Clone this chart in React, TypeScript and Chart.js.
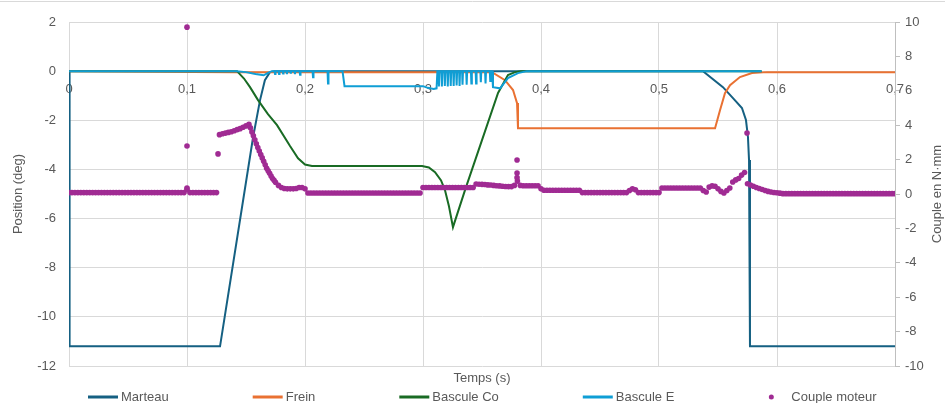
import React, { useEffect, useRef } from 'react';
import { Chart, registerables } from 'chart.js';

Chart.register(...registerables);

// ---------- data ----------
const seriesNames = ['Marteau', 'Frein', 'Bascule Co', 'Bascule E', 'Couple moteur'];
const xTickLabels = ['0', '0,1', '0,2', '0,3', '0,4', '0,5', '0,6', '0,7'];
const xTitle = 'Temps (s)';
const yLeftTitle = 'Position (deg)';
const yRightTitle = 'Couple en N·mm';

const marteau: [number, number][] = [
  [0, 0], [0.0005, -11.2], [0.128, -11.2], [0.156, -2.69], [0.1619, -1.18], [0.166, -0.37],
  [0.1703, -0.04], [0.174, 0], [0.5373, 0], [0.5542, -0.65], [0.5627, -1.1], [0.5703, -1.5],
  [0.5737, -1.99], [0.5754, -2.69], [0.5763, -3.62], [0.5771, -11.2], [0.7, -11.2],
];

const frein: [number, number][] = [
  [0, 0], [0.14, -0.04], [0.3585, -0.04], [0.3695, -0.37], [0.3763, -0.77], [0.3797, -1.3],
  [0.3805, -2.32], [0.5475, -2.32], [0.5517, -1.59], [0.5559, -0.9], [0.5602, -0.57],
  [0.5686, -0.24], [0.5788, -0.08], [0.5915, -0.04], [0.7, -0.04],
];

const basculeCo: [number, number][] = [
  [0, 0], [0.1424, 0], [0.1483, -0.3], [0.1534, -0.65], [0.1602, -1.18], [0.1686, -1.75],
  [0.1763, -2.2], [0.1873, -3.05], [0.1941, -3.55], [0.2, -3.8], [0.2059, -3.86],
  [0.2992, -3.86], [0.305, -3.92], [0.3102, -4.11], [0.3153, -4.45], [0.3186, -4.84],
  [0.322, -5.5], [0.3254, -6.35], [0.3356, -4.84], [0.35, -2.81], [0.3636, -0.89],
  [0.372, -0.16], [0.378, -0.04], [0.383, 0], [0.587, 0],
];

const basculeE: [number, number][] = [
  [0, 0], [0.142, 0], [0.15, -0.04], [0.158, -0.12], [0.165, -0.17], [0.169, -0.06], [0.172, 0],
  [0.1742, 0], [0.1746, -0.12], [0.175, 0],
  [0.1776, 0], [0.178, -0.12], [0.1784, 0],
  [0.181, 0], [0.1814, -0.1], [0.1818, 0],
  [0.1843, 0], [0.1847, -0.12], [0.1851, 0],
  [0.1876, 0], [0.188, -0.1], [0.1884, 0],
  [0.1911, 0], [0.1915, -0.12], [0.1919, 0],
  [0.1954, 0], [0.1958, -0.15], [0.1962, 0],
  [0.2064, 0], [0.2068, -0.25], [0.2072, 0],
  [0.2191, 0], [0.2195, -0.5], [0.2199, 0],
  [0.2318, 0], [0.2335, -0.61], [0.3, -0.61], [0.304, -0.68], [0.309, -0.73], [0.3115, -0.7],
  [0.3122, 0],
  [0.3131, 0], [0.3135, -0.62], [0.3139, 0],
  [0.3156, 0], [0.316, -0.62], [0.3164, 0],
  [0.3181, 0], [0.3185, -0.6], [0.3189, 0],
  [0.3206, 0], [0.321, -0.62], [0.3214, 0],
  [0.3231, 0], [0.3235, -0.6], [0.3239, 0],
  [0.3256, 0], [0.326, -0.6], [0.3264, 0],
  [0.3281, 0], [0.3285, -0.58], [0.3289, 0],
  [0.3306, 0], [0.331, -0.6], [0.3314, 0],
  [0.3331, 0], [0.3335, -0.55], [0.3339, 0],
  [0.3366, 0], [0.337, -0.55], [0.3374, 0],
  [0.3406, 0], [0.341, -0.5], [0.3414, 0],
  [0.3446, 0], [0.345, -0.5], [0.3454, 0],
  [0.3486, 0], [0.349, -0.45], [0.3494, 0],
  [0.3526, 0], [0.353, -0.5], [0.3534, 0],
  [0.3566, 0], [0.357, -0.4], [0.3574, 0],
  [0.3585, 0], [0.3593, -0.65], [0.3653, -0.7], [0.372, -0.28], [0.3805, -0.08], [0.388, 0],
  [0.587, 0],
];

// Couple moteur: regular sampling (start time, step) and values
const COUPLE_T0 = 0;
const COUPLE_DT = 0.0025;
const coupleY: number[] = [
  // t = 0 .. 0.125
  0.08, 0.08, 0.08, 0.08, 0.08, 0.08, 0.08, 0.08, 0.08, 0.08,
  0.08, 0.08, 0.08, 0.08, 0.08, 0.08, 0.08, 0.08, 0.08, 0.08,
  0.08, 0.08, 0.08, 0.08, 0.08, 0.08, 0.08, 0.08, 0.08, 0.08,
  0.08, 0.08, 0.08, 0.08, 0.08, 0.08, 0.08, 0.08, 0.08, 0.08,
  0.27, 0.08, 0.08, 0.08, 0.08, 0.08, 0.08, 0.08, 0.08, 0.08,
  0.08,
  // t = 0.1275 .. 0.2
  3.45, 3.5, 3.54, 3.58, 3.62, 3.68, 3.74, 3.8, 3.88, 3.96,
  4.05, 3.6, 3.15, 2.7, 2.3, 1.9, 1.5, 1.2, 0.9, 0.68,
  0.5, 0.38, 0.32, 0.3, 0.3, 0.3, 0.32, 0.38, 0.38, 0.3,
  // t = 0.2025 .. 0.2975
  0.06, 0.06, 0.06, 0.06, 0.06, 0.06, 0.06, 0.06, 0.06, 0.06,
  0.06, 0.06, 0.06, 0.06, 0.06, 0.06, 0.06, 0.06, 0.06, 0.06,
  0.06, 0.06, 0.06, 0.06, 0.06, 0.06, 0.06, 0.06, 0.06, 0.06,
  0.06, 0.06, 0.06, 0.06, 0.06, 0.06, 0.06, 0.06, 0.06,
  // t = 0.3 .. 0.3425
  0.38, 0.38, 0.38, 0.38, 0.38, 0.38, 0.38, 0.38, 0.38, 0.38,
  0.38, 0.38, 0.38, 0.38, 0.38, 0.38, 0.38, 0.38,
  // t = 0.345 .. 0.3975
  0.58, 0.57, 0.56, 0.55, 0.53, 0.52, 0.5, 0.48, 0.47, 0.45,
  0.44, 0.43, 0.43, 0.5, 0.75, 0.5, 0.48, 0.48, 0.48, 0.48,
  0.48, 0.48,
  // t = 0.4 .. 0.4325
  0.3, 0.22, 0.22, 0.22, 0.22, 0.22, 0.22, 0.22, 0.22, 0.22,
  0.22, 0.22, 0.22, 0.22,
  // t = 0.435 .. 0.5
  0.08, 0.08, 0.08, 0.08, 0.08, 0.08, 0.08, 0.08, 0.08, 0.08,
  0.08, 0.08, 0.08, 0.08, 0.08, 0.08, 0.2, 0.3, 0.25, 0.08,
  0.08, 0.08, 0.08, 0.08, 0.08, 0.08, 0.08,
  // t = 0.5025 .. 0.535
  0.35, 0.35, 0.35, 0.35, 0.35, 0.35, 0.35, 0.35, 0.35, 0.35,
  0.35, 0.35, 0.35, 0.35,
  // t = 0.5375 .. 0.6025
  0.2, 0.12, 0.4, 0.47, 0.45, 0.3, 0.15, 0.06, 0.2, 0.35,
  0.7, 0.82, 0.9, 1.1, 1.25, 0.6, 0.52, 0.45, 0.38, 0.32,
  0.26, 0.2, 0.15, 0.12, 0.09, 0.07, 0.05,
  // t = 0.605 .. 0.7
  0.02, 0.02, 0.02, 0.02, 0.02, 0.02, 0.02, 0.02, 0.02, 0.02,
  0.02, 0.02, 0.02, 0.02, 0.02, 0.02, 0.02, 0.02, 0.02, 0.02,
  0.02, 0.02, 0.02, 0.02, 0.02, 0.02, 0.02, 0.02, 0.02, 0.02,
  0.02, 0.02, 0.02, 0.02, 0.02, 0.02, 0.02, 0.02, 0.02,
];
const coupleExtra: [number, number][] = [
  [0.1, 9.7], [0.1, 2.79], [0.1, 0.35], [0.1263, 2.33],
  [0.15375, 3.85], [0.15625, 3.38], [0.15875, 2.92], [0.16125, 2.5], [0.16375, 2.1],
  [0.16625, 1.7], [0.16875, 1.35], [0.17125, 1.05], [0.17375, 0.8],
  [0.3797, 1.98], [0.3797, 1.22], [0.3797, 0.95],
  [0.5746, 3.55],
];

// ---------- styles ----------
const COLORS = ['#156082', '#E97132', '#196B24', '#0F9ED5', '#A02B93'];
const TEXT = '#595959';
const GRID = '#d9d9d9';
const FONT = '"Liberation Sans", Arial, sans-serif';

const toXY = (pairs: [number, number][]) => pairs.map(([x, y]) => ({ x, y }));

const bottomLegend = {
  id: 'bottomLegend',
  afterDraw(chart: any) {
    const ctx = chart.ctx as CanvasRenderingContext2D;
    const area = chart.chartArea;
    ctx.save();
    // outer chart border (top edge)
    ctx.strokeStyle = GRID;
    ctx.lineWidth = 1;
    ctx.beginPath();
    ctx.moveTo(0, 1.5);
    ctx.lineTo(chart.width, 1.5);
    ctx.stroke();

    ctx.font = `13px ${FONT}`;
    ctx.fillStyle = TEXT;

    // secondary axis title, rotated like the primary one
    ctx.save();
    ctx.translate(chart.width - 8, (area.top + area.bottom) / 2);
    ctx.rotate(-Math.PI / 2);
    ctx.textAlign = 'center';
    ctx.textBaseline = 'middle';
    ctx.fillText(yRightTitle, 0, 0);
    ctx.restore();

    // legend
    ctx.textBaseline = 'middle';
    ctx.textAlign = 'left';
    const y = 397;
    let x = 88;
    chart.data.datasets.forEach((ds: any) => {
      if (ds.showLine) {
        ctx.strokeStyle = ds.borderColor;
        ctx.lineWidth = 3;
        ctx.beginPath();
        ctx.moveTo(x, y);
        ctx.lineTo(x + 30, y);
        ctx.stroke();
      } else {
        ctx.fillStyle = ds.backgroundColor;
        ctx.beginPath();
        ctx.arc(x + 13, y, 2.5, 0, Math.PI * 2);
        ctx.fill();
      }
      ctx.fillStyle = TEXT;
      ctx.fillText(ds.label, x + 33, y);
      x += 33 + ctx.measureText(ds.label).width + 84;
    });
    ctx.restore();
  },
};

export default function App() {
  const canvasRef = useRef<HTMLCanvasElement | null>(null);

  useEffect(() => {
    document.body.style.margin = '0';
    const canvas = canvasRef.current;
    if (!canvas) return;

    const coupleData = coupleY
      .map((v, i) => ({ x: COUPLE_T0 + i * COUPLE_DT, y: v }))
      .concat(toXY(coupleExtra));

    const lineDs = (idx: number, pairs: [number, number][], order: number) => ({
      type: 'scatter' as const,
      label: seriesNames[idx],
      data: toXY(pairs),
      showLine: true,
      borderColor: COLORS[idx],
      backgroundColor: COLORS[idx],
      borderWidth: 2,
      pointRadius: 0,
      pointHoverRadius: 0,
      tension: 0,
      fill: false,
      xAxisID: 'x',
      yAxisID: 'y',
      order,
    });

    const tickFont = { family: FONT, size: 13 };

    const chart = new Chart(canvas, {
      type: 'scatter',
      data: {
        datasets: [
          lineDs(0, marteau, 5),
          lineDs(1, frein, 4),
          lineDs(2, basculeCo, 3),
          lineDs(3, basculeE, 2),
          {
            type: 'scatter',
            label: seriesNames[4],
            data: coupleData,
            showLine: false,
            backgroundColor: COLORS[4],
            borderColor: COLORS[4],
            borderWidth: 0,
            pointRadius: 2.8,
            pointHoverRadius: 2.8,
            xAxisID: 'x',
            yAxisID: 'y1',
            order: 1,
          } as any,
        ],
      },
      options: {
        animation: false,
        responsive: false,
        devicePixelRatio: 1,
        layout: { padding: { top: 22, left: 0, right: 0, bottom: 17 } },
        plugins: {
          legend: { display: false },
          tooltip: { enabled: false },
        },
        scales: {
          x: {
            type: 'linear',
            min: 0,
            max: 0.7,
            position: { y: 0 } as any,
            ticks: {
              stepSize: 0.1,
              padding: 10,
              color: TEXT,
              font: tickFont,
              maxRotation: 0,
              autoSkip: false,
              callback: (v: any) => xTickLabels[Math.round(Number(v) * 10)] ?? '',
            },
            grid: { color: GRID, drawTicks: false },
            border: { display: false },
          },
          xb: {
            type: 'linear',
            position: 'bottom',
            min: 0,
            max: 0.7,
            ticks: { display: false },
            grid: { display: false, drawTicks: false },
            border: { display: false },
            title: {
              display: true,
              text: xTitle,
              color: TEXT,
              font: { family: FONT, size: 13 },
              padding: { top: 0, bottom: 0 },
            },
            afterFit: (s: any) => { s.height = 20; },
          },
          y: {
            type: 'linear',
            position: 'left',
            min: -12,
            max: 2,
            ticks: { stepSize: 2, padding: 13, color: TEXT, font: tickFont },
            grid: { color: GRID, drawTicks: false },
            border: { display: true, color: GRID },
            title: {
              display: true,
              text: yLeftTitle,
              color: TEXT,
              font: { family: FONT, size: 13 },
              padding: { top: 11, bottom: 0 },
            },
            afterFit: (s: any) => { s.width = 69; },
          },
          y1: {
            type: 'linear',
            position: 'right',
            min: -10,
            max: 10,
            ticks: { stepSize: 2, padding: 5, color: TEXT, font: tickFont },
            grid: { drawOnChartArea: false, drawTicks: true, tickLength: 5, color: '#bfbfbf' },
            border: { display: true, color: '#bfbfbf' },
            title: { display: false, text: yRightTitle },
            afterFit: (s: any) => { s.width = 50; },
          },
        },
      } as any,
      plugins: [bottomLegend],
    });

    return () => chart.destroy();
  }, []);

  return (
    <div style={{ width: 945, height: 403, position: 'relative', overflow: 'hidden' }}>
      <canvas ref={canvasRef} width={945} height={403} style={{ display: 'block' }} />
    </div>
  );
}
